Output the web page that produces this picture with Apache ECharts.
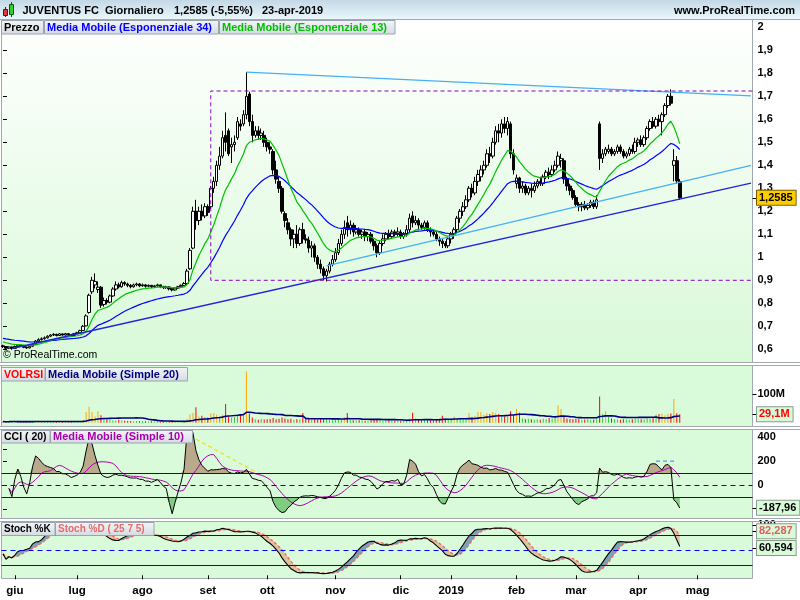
<!DOCTYPE html>
<html>
<head>
<meta charset="utf-8">
<script src="https://cdn.jsdelivr.net/npm/echarts@6/dist/echarts.min.js"></script>
<style>
html,body{margin:0;padding:0;background:#ffffff;}
#chart{width:800px;height:600px;}
</style>
</head>
<body>
<div id="chart"></div>
<script>
// ---------------- data ----------------
const firstTradingDay = '2018-05-28';
const categoryCount = 253;
const exchangeHolidays = ['2018-08-15','2018-12-24','2018-12-25','2018-12-26','2018-12-31','2019-01-01','2019-04-19','2019-04-22','2019-05-01'];
const monthLabels = ['gen','feb','mar','apr','mag','giu','lug','ago','set','ott','nov','dic'];

const priceTicks = [0.6,0.7,0.8,0.9,1.0,1.1,1.2,1.3,1.4,1.5,1.6,1.7,1.8,1.9,2.0];
const volumeTicks = [100];
const cciTicks = [-200,-100,0,100,200,300,400];
const cciLabelTicks = [0,200,400];
const stochTicks = [100];

// daily candles: [open, close, low, high]
const ohlc = [
// mag 2018
[0.615,0.612,0.606,0.620],[0.612,0.605,0.601,0.614],[0.605,0.610,0.602,0.613],[0.610,0.604,0.598,0.612],
// giu
[0.604,0.612,0.603,0.616],[0.612,0.618,0.610,0.622],[0.618,0.613,0.610,0.620],[0.613,0.609,0.605,0.615],[0.609,0.606,0.602,0.612],
[0.606,0.613,0.604,0.616],[0.613,0.622,0.611,0.625],[0.622,0.636,0.620,0.640],[0.636,0.642,0.630,0.648],[0.642,0.646,0.638,0.652],
[0.646,0.650,0.642,0.656],[0.650,0.657,0.647,0.661],[0.657,0.662,0.653,0.666],[0.662,0.665,0.658,0.670],[0.665,0.660,0.656,0.668],
[0.660,0.667,0.658,0.670],[0.667,0.662,0.659,0.669],[0.662,0.668,0.660,0.671],[0.668,0.664,0.660,0.670],[0.664,0.660,0.656,0.667],
[0.660,0.668,0.658,0.671],
// lug
[0.668,0.672,0.665,0.676],[0.672,0.681,0.670,0.685],[0.682,0.700,0.680,0.706],[0.702,0.745,0.700,0.752],[0.760,0.835,0.755,0.842],
[0.850,0.900,0.840,0.915],[0.880,0.895,0.865,0.930],[0.860,0.870,0.845,0.895],[0.870,0.792,0.780,0.875],[0.795,0.812,0.785,0.825],
[0.812,0.805,0.795,0.822],[0.805,0.832,0.800,0.838],[0.832,0.862,0.828,0.870],[0.862,0.880,0.855,0.895],[0.880,0.872,0.865,0.890],
[0.872,0.890,0.868,0.898],[0.890,0.884,0.876,0.896],[0.884,0.878,0.870,0.890],[0.878,0.872,0.865,0.884],[0.872,0.880,0.868,0.886],
[0.880,0.884,0.874,0.890],[0.884,0.876,0.870,0.888],
// ago
[0.876,0.880,0.872,0.886],[0.880,0.874,0.868,0.884],[0.874,0.878,0.870,0.882],[0.878,0.872,0.866,0.880],[0.872,0.876,0.868,0.880],
[0.876,0.880,0.872,0.885],[0.880,0.872,0.866,0.882],[0.872,0.868,0.862,0.876],[0.868,0.871,0.863,0.876],[0.871,0.863,0.856,0.874],
[0.863,0.858,0.852,0.866],[0.858,0.866,0.855,0.870],[0.866,0.872,0.862,0.876],[0.872,0.878,0.868,0.882],[0.878,0.886,0.874,0.892],
[0.886,0.940,0.880,0.950],[0.950,1.030,0.945,1.040],[1.040,1.200,1.035,1.220],[1.200,1.160,1.120,1.250],[1.160,1.200,1.140,1.220],
[1.200,1.180,1.160,1.230],[1.180,1.220,1.170,1.235],
// set
[1.220,1.195,1.180,1.230],[1.220,1.300,1.210,1.310],[1.300,1.330,1.280,1.350],[1.330,1.400,1.310,1.420],[1.400,1.440,1.380,1.480],
[1.440,1.520,1.430,1.550],[1.530,1.500,1.460,1.630],[1.550,1.450,1.440,1.560],[1.480,1.490,1.410,1.520],[1.490,1.500,1.460,1.530],
[1.520,1.590,1.510,1.610],[1.580,1.570,1.550,1.600],[1.580,1.620,1.570,1.640],[1.620,1.700,1.600,1.805],[1.710,1.590,1.570,1.720],
[1.590,1.530,1.500,1.620],[1.530,1.550,1.520,1.570],[1.550,1.530,1.510,1.570],[1.530,1.540,1.510,1.560],[1.530,1.500,1.480,1.550],
// ott
[1.500,1.480,1.460,1.520],[1.480,1.470,1.450,1.500],[1.460,1.380,1.360,1.470],[1.380,1.340,1.320,1.420],[1.330,1.300,1.280,1.350],
[1.300,1.200,1.190,1.310],[1.190,1.160,1.130,1.200],[1.150,1.120,1.100,1.170],[1.120,1.080,1.050,1.130],[1.080,1.100,1.040,1.120],
[1.100,1.060,1.040,1.140],[1.060,1.120,1.050,1.130],[1.120,1.080,1.060,1.150],[1.080,1.075,1.060,1.100],[1.075,1.040,1.020,1.090],
[1.040,1.050,1.000,1.070],[1.050,1.000,0.980,1.060],[1.000,0.970,0.950,1.010],[0.970,0.950,0.930,0.990],[0.950,0.920,0.900,0.960],
[0.920,0.940,0.895,0.950],[0.940,0.970,0.930,0.980],[0.970,0.990,0.960,1.010],
// nov
[0.990,1.020,0.980,1.040],[1.020,1.060,1.010,1.080],[1.060,1.100,1.050,1.120],[1.100,1.130,1.080,1.160],[1.150,1.120,1.090,1.180],
[1.120,1.140,1.100,1.160],[1.140,1.110,1.090,1.150],[1.110,1.120,1.100,1.140],[1.120,1.100,1.090,1.130],[1.100,1.110,1.080,1.120],
[1.110,1.090,1.070,1.120],[1.090,1.100,1.070,1.110],[1.100,1.070,1.060,1.110],[1.070,1.050,1.030,1.080],[1.050,1.020,1.000,1.060],
[1.020,1.060,1.010,1.070],[1.060,1.080,1.050,1.100],[1.080,1.100,1.070,1.110],[1.100,1.090,1.080,1.120],[1.090,1.110,1.080,1.120],
[1.110,1.100,1.090,1.120],[1.100,1.110,1.090,1.130],
// dic
[1.110,1.090,1.080,1.120],[1.090,1.100,1.080,1.110],[1.100,1.120,1.090,1.140],[1.120,1.170,1.110,1.190],[1.180,1.150,1.130,1.200],
[1.150,1.160,1.140,1.180],[1.160,1.140,1.120,1.170],[1.140,1.130,1.120,1.150],[1.130,1.150,1.120,1.160],[1.150,1.120,1.110,1.160],
[1.120,1.110,1.090,1.130],[1.110,1.100,1.090,1.120],[1.100,1.080,1.070,1.110],[1.080,1.070,1.050,1.090],[1.070,1.060,1.040,1.080],
[1.060,1.050,1.040,1.070],[1.050,1.080,1.040,1.090],
// gen 2019
[1.080,1.100,1.060,1.110],[1.100,1.120,1.080,1.130],[1.120,1.170,1.110,1.180],[1.170,1.200,1.150,1.210],[1.200,1.220,1.180,1.240],
[1.220,1.250,1.210,1.270],[1.250,1.300,1.240,1.310],[1.300,1.280,1.260,1.320],[1.280,1.330,1.270,1.350],[1.330,1.360,1.310,1.380],
[1.350,1.380,1.330,1.400],[1.380,1.400,1.360,1.420],[1.400,1.450,1.390,1.470],[1.450,1.440,1.410,1.480],[1.440,1.500,1.430,1.520],
[1.500,1.550,1.490,1.570],[1.550,1.540,1.500,1.580],[1.540,1.580,1.520,1.600],[1.580,1.560,1.540,1.610],[1.560,1.590,1.530,1.610],
[1.580,1.450,1.430,1.590],[1.450,1.380,1.360,1.470],
// feb
[1.320,1.345,1.300,1.360],[1.345,1.300,1.280,1.350],[1.300,1.310,1.280,1.330],[1.310,1.280,1.270,1.320],[1.280,1.300,1.270,1.310],
[1.300,1.290,1.260,1.320],[1.290,1.310,1.280,1.330],[1.310,1.330,1.300,1.340],[1.330,1.320,1.310,1.350],[1.320,1.350,1.310,1.360],
[1.350,1.370,1.340,1.380],[1.370,1.360,1.340,1.390],[1.360,1.380,1.350,1.400],[1.380,1.400,1.370,1.420],[1.400,1.440,1.390,1.460],
[1.420,1.430,1.390,1.450],[1.420,1.340,1.320,1.430],[1.340,1.310,1.290,1.350],[1.310,1.290,1.270,1.320],[1.290,1.260,1.250,1.300],
// mar
[1.260,1.230,1.220,1.270],[1.230,1.220,1.200,1.240],[1.220,1.230,1.200,1.240],[1.230,1.215,1.205,1.245],[1.215,1.225,1.205,1.235],
[1.225,1.240,1.215,1.250],[1.240,1.220,1.210,1.250],[1.220,1.250,1.210,1.270],[1.580,1.430,1.380,1.590],[1.430,1.450,1.410,1.470],
[1.450,1.470,1.440,1.480],[1.460,1.470,1.450,1.490],[1.470,1.450,1.440,1.480],[1.450,1.460,1.440,1.470],[1.460,1.480,1.450,1.490],
[1.480,1.460,1.450,1.490],[1.460,1.440,1.430,1.470],[1.440,1.450,1.430,1.460],[1.450,1.470,1.440,1.480],[1.470,1.460,1.450,1.490],
[1.460,1.500,1.450,1.520],
// apr
[1.500,1.510,1.480,1.520],[1.510,1.490,1.480,1.530],[1.490,1.520,1.480,1.530],[1.520,1.560,1.510,1.570],[1.560,1.590,1.550,1.600],
[1.590,1.570,1.560,1.610],[1.570,1.600,1.560,1.610],[1.600,1.590,1.570,1.620],[1.590,1.620,1.530,1.630],[1.620,1.660,1.610,1.670],
[1.660,1.700,1.650,1.710],[1.700,1.670,1.660,1.730],[1.400,1.420,1.330,1.470],[1.420,1.3325,1.320,1.440],[1.330,1.2585,1.250,1.340]
];

// daily volume, millions of shares
const volumeM = [
4,3,4,5,4,3,4,3,4,3,5,6,7,5,4,4,5,4,3,4,3,4,5,4,3,4,6,
9,37,56,37,22,40,26,14,12,10,9,8,10,8,
7,6,6,5,6,5,6,5,4,5,4,5,4,4,3,4,5,4,4,5,6,
14,29,34,54,22,24,20,18,32,34,29,22,28,65,22,18,20,24,29,26,178,32,18,
12,10,14,11,12,13,16,12,14,18,15,12,14,10,12,11,
34,14,12,10,12,11,13,12,14,10,9,10,12,10,20,34,
10,9,8,9,8,7,8,9,10,11,9,8,7,9,8,7,8,
7,8,12,15,35,15,10,8,9,8,9,8,10,12,24,15,12,
10,22,14,16,12,15,34,20,24,37,37,28,33,30,37,35,30,25,22,22,40,25,
48,35,15,12,14,12,10,12,10,14,12,16,15,18,60,48,22,15,13,12,14,12,10,11,12,10,11,14,
91,30,40,20,15,12,11,10,12,11,10,12,14,13,12,11,14,15,18,28,30,32,26,30,32,83,33,29.1
];

// moving-average values at the first bar
const ema34Seed = 0.650;
const ema13Seed = 0.636;

// drawn annotations, in [bar index, value]
const supportLine = [[3, 0.6035], [252, 1.322]];
const upperLine = [[82, 1.805], [252, 1.702]];
const lowerLine = [[109, 0.963], [252, 1.40]];
const boxLeft = 70, boxRight = 252.5, boxTop = 1.723, boxBottom = 0.90;
const cciTrendLine = [[65, 385], [85, 113]];
const cciAprilLine = [[220, 202], [227, 202]];

const lastValues = {price: 1.2585, volume: 29.1, cci: -187.96, stochD: 82.287, stochK: 60.594};
const lastLabels = {price: '1,2585', volume: '29,1M', cci: '-187,96', stochD: '82,287', stochK: '60,594'};

// ---------------- categories ----------------
const dates = [];
(function(){
  const p = firstTradingDay.split('-').map(Number);
  const d = new Date(Date.UTC(p[0], p[1]-1, p[2]));
  while (dates.length < categoryCount) {
    const s = d.toISOString().slice(0,10);
    const wd = d.getUTCDay();
    if (wd !== 0 && wd !== 6 && exchangeHolidays.indexOf(s) < 0) dates.push(s);
    d.setUTCDate(d.getUTCDate()+1);
  }
})();
const monthStart = dates.map((s,i) => i > 0 && s.slice(5,7) !== dates[i-1].slice(5,7));

// ---------------- indicators ----------------
const closes = ohlc.map(r => r[1]);
function ema(src, n, seed){ const k = 2/(n+1); let prev = seed; return src.map(v => { prev = prev + k*(v-prev); return +prev.toFixed(4); }); }
function sma(src, n){ return src.map((v,i) => { const w = src.slice(Math.max(0,i-n+1), i+1).filter(x => x != null); return w.length ? w.reduce((a,b)=>a+b,0)/w.length : null; }); }
const ema34 = ema(closes, 34, ema34Seed);
const ema13 = ema(closes, 13, ema13Seed);
const volMA = sma(volumeM, 20).map(v => +v.toFixed(3));
const volColors = volumeM.map((v,i) => {
  const up = ohlc[i][1] >= ohlc[i][0];
  if (!up) return '#ff0000';
  const ref = i > 0 ? volMA[i-1] : v;
  return v >= 1.5*ref ? '#ffa500' : '#33cc33';
});
const tp = ohlc.map(r => (r[1]+r[2]+r[3])/3);
const cci = tp.map((v,i) => {
  const n = Math.min(20, i+1);
  if (n < 3) return null;
  const w = tp.slice(i-n+1, i+1);
  const m = w.reduce((a,b)=>a+b,0)/n;
  const md = w.reduce((a,b)=>a+Math.abs(b-m),0)/n;
  return md ? +((v-m)/(0.015*md)).toFixed(2) : 0;
});
const cciMA = sma(cci, 10).map(v => v == null ? null : +v.toFixed(2));
const cciOver = cci.map(v => v == null ? null : Math.max(v-100, 0));
const cciUnder = cci.map(v => v == null ? null : Math.min(v+100, 0));
const rawK = ohlc.map((r,i) => {
  const w = ohlc.slice(Math.max(0,i-24), i+1);
  const hh = Math.max(...w.map(x=>x[3])), ll = Math.min(...w.map(x=>x[2]));
  return hh > ll ? (r[1]-ll)/(hh-ll)*100 : 50;
});
const stochK = sma(rawK, 7).map(v => +v.toFixed(2));
const stochD = sma(stochK, 5).map(v => +v.toFixed(2));
const stBase = stochK.map((k,i) => Math.min(k, stochD[i]));
const stUp = stochK.map((k,i) => k > stochD[i] ? +(k-stochD[i]).toFixed(2) : 0);
const stDn = stochK.map((k,i) => stochD[i] > k ? +(stochD[i]-k).toFixed(2) : 0);

// ---------------- chart ----------------
const FONT = 'Liberation Sans';
const BORDER = '#a0a8b0';
const PANEL_BG = '#d9fbd9';
const plotLeft = 1.5, plotWidth = 751;
const chart = echarts.init(document.getElementById('chart'));

const priceBg = {type:'linear', x:0, y:0, x2:0, y2:1, colorStops:[{offset:0,color:'#ffffff'},{offset:1,color:'#d8f9d8'}]};
function gridOf(top, height, bg){ return {left: plotLeft, top, width: plotWidth, height, show: true, backgroundColor: bg, borderColor: BORDER, borderWidth: 1, containLabel: false}; }
function catAxis(gi){ return {type:'category', gridIndex: gi, data: dates, boundaryGap: true, axisLine:{show:false}, axisTick:{show:false}, axisLabel:{show:false}, splitLine:{show:false}}; }
function valAxis(gi, min, max, ticks, labels, fmt){
  return {type:'value', gridIndex: gi, position:'right', min, max, scale: true,
    splitLine:{show:false}, axisLine:{show:false},
    axisTick:{show:true, length:4, customValues: ticks, lineStyle:{color:'#000'}},
    axisLabel:{show:true, customValues: labels, formatter: fmt, margin: 5, color:'#000', fontWeight:'bold', fontSize: 11, fontFamily: FONT}};
}
const isStart = (idx) => monthStart[idx];
const monthFmt = (val) => { const m = +val.slice(5,7); return m === 1 ? val.slice(0,4) : monthLabels[m-1]; };
const lineS = (xi, yi, data, color, width, extra) => Object.assign({type:'line', xAxisIndex: xi, yAxisIndex: yi, data, symbol:'none', showSymbol:false, silent:true, lineStyle:{color, width}}, extra || {});

const option = {
  animation: false,
  backgroundColor: '#ffffff',
  grid: [
    gridOf(19.5, 343, priceBg),
    gridOf(365.5, 61, PANEL_BG),
    gridOf(429.5, 89, PANEL_BG),
    gridOf(521.5, 57, PANEL_BG)
  ],
  xAxis: [
    catAxis(0), catAxis(1), catAxis(2),
    Object.assign(catAxis(3), {
      axisTick:{show:true, alignWithLabel:true, interval: isStart, length:4, lineStyle:{color:'#000'}},
      axisLabel:{show:true, interval: isStart, formatter: monthFmt, color:'#000', fontWeight:'bold', fontSize:11.5, fontFamily: FONT, margin: 6}
    }),
    {type:'value', gridIndex:0, min:-0.5, max: categoryCount-0.5, show:false},
    {type:'value', gridIndex:2, min:-0.5, max: categoryCount-0.5, show:false}
  ],
  yAxis: [
    valAxis(0, 0.5426, 2.0339, priceTicks, priceTicks, v => String(+(+v).toFixed(1)).replace('.', ',')),
    valAxis(1, -13.2, 199.3, volumeTicks, volumeTicks, v => Math.round(v) + 'M'),
    valAxis(2, -276.7, 465, cciTicks, cciLabelTicks, v => String(Math.round(v))),
    valAxis(3, -6.4, 107.6, stochTicks, stochTicks, v => String(Math.round(v)))
  ],
  series: [
    {type:'candlestick', xAxisIndex:0, yAxisIndex:0, data: ohlc, barWidth: 3, silent: true,
     itemStyle:{color:'#ffffff', color0:'#000000', borderColor:'#000000', borderColor0:'#000000', borderWidth:1}},
    lineS(0, 0, ema34, '#0000ff', 1.2),
    lineS(0, 0, ema13, '#00c000', 1.2),
    lineS(4, 0, supportLine, '#2323d8', 1.3),
    lineS(4, 0, upperLine, '#45b0f5', 1.2),
    lineS(4, 0, lowerLine, '#45b0f5', 1.2),
    lineS(4, 0, [[boxRight, boxTop],[boxLeft, boxTop],[boxLeft, boxBottom],[boxRight, boxBottom]], '#8a00c8', 1, {lineStyle:{color:'#8a00c8', width:1, type:[4,3]}}),

    {type:'bar', xAxisIndex:1, yAxisIndex:1, barWidth:1, silent:true,
     data: volumeM.map((v,i) => ({value: v, itemStyle:{color: volColors[i]}}))},
    lineS(1, 1, volMA, '#000080', 1.6),

    lineS(2, 2, cci.map(v => v == null ? null : 100), '#000', 0, {stack:'cciUp', stackStrategy:'all', lineStyle:{opacity:0, width:0}}),
    lineS(2, 2, cciOver, '#000', 0, {stack:'cciUp', stackStrategy:'all', lineStyle:{opacity:0, width:0}, areaStyle:{color:'#b9aa8c', opacity:1}}),
    lineS(2, 2, cci.map(v => v == null ? null : -100), '#000', 0, {stack:'cciDn', stackStrategy:'all', lineStyle:{opacity:0, width:0}}),
    lineS(2, 2, cciUnder, '#000', 0, {stack:'cciDn', stackStrategy:'all', lineStyle:{opacity:0, width:0}, areaStyle:{color:'#80cc80', opacity:1}}),
    lineS(2, 2, cciMA, '#b000b0', 1),
    lineS(2, 2, cci, '#000000', 1, {markLine:{silent:true, symbol:'none', label:{show:false}, lineStyle:{color:'#0000ff', width:1, type:'solid'},
      data:[{yAxis:100},{yAxis:-100},{yAxis:0, lineStyle:{color:'#0000ff', width:1, type:[5,4]}}]}}),
    lineS(5, 2, cciTrendLine, '#f0e020', 1.3, {lineStyle:{color:'#f0e020', width:1.3, type:[4,3]}}),
    lineS(5, 2, cciAprilLine, '#40a0ff', 1.3, {lineStyle:{color:'#40a0ff', width:1.3, type:[4,3]}}),

    lineS(3, 3, stBase, '#000', 0, {stack:'st', stackStrategy:'all', lineStyle:{opacity:0, width:0}}),
    lineS(3, 3, stUp, '#000', 0, {stack:'st', stackStrategy:'all', lineStyle:{opacity:0, width:0}, areaStyle:{color:'#82a0b4', opacity:1}}),
    lineS(3, 3, stDn, '#000', 0, {stack:'st', stackStrategy:'all', lineStyle:{opacity:0, width:0}, areaStyle:{color:'#dcc3a0', opacity:1}}),
    lineS(3, 3, stochD, '#f06a6a', 1.4, {lineStyle:{color:'#f06a6a', width:1.4, type:[3,2]}}),
    lineS(3, 3, stochK, '#000000', 1.1, {markLine:{silent:true, symbol:'none', label:{show:false}, lineStyle:{color:'#0000ff', width:1, type:'solid'},
      data:[{yAxis:80},{yAxis:20},{yAxis:50, lineStyle:{color:'#0000ff', width:1, type:[5,4]}}]}})
  ]
};
chart.setOption(option);

// ---------------- overlays (title bar, legends, value boxes) ----------------
const legendFill = new echarts.graphic.LinearGradient(0,0,0,1,[{offset:0,color:'#f3f6f8'},{offset:1,color:'#d4dbe1'}]);
const els = [];
function txt(x, y, text, opts){ return Object.assign({type:'text', z:110, style:Object.assign({x, y, text, fill:'#000', fontFamily:FONT, fontSize:11, fontWeight:'bold', verticalAlign:'middle', align:'left'}, opts || {})}); }
function legend(x, y, w, h, text, color, size){
  els.push({type:'rect', z:105, shape:{x, y, width:w, height:h}, style:{fill: legendFill, stroke:'#9aa4ad', lineWidth:1}});
  els.push(txt(x+2.5, y+h/2+0.5, text, {fill: color, fontSize: size || 11}));
}
function hline(y, x1, x2){ els.push({type:'line', z:104, shape:{x1, y1:y, x2, y2:y}, style:{stroke: BORDER, lineWidth:1}}); }

// title bar
els.push({type:'rect', z:100, shape:{x:0, y:0, width:800, height:19}, style:{fill: new echarts.graphic.LinearGradient(0,0,0,1,[{offset:0,color:'#c3d9e6'},{offset:1,color:'#eaf6fc'}])}});
hline(19.5, 0, 800);
els.push({type:'line', z:106, shape:{x1:5.5, y1:7, x2:5.5, y2:17}, style:{stroke:'#800000', lineWidth:1}});
els.push({type:'rect', z:107, shape:{x:3.5, y:9.5, width:4, height:6}, style:{fill:'#e53a3a', stroke:'#8a0000', lineWidth:1}});
els.push({type:'line', z:106, shape:{x1:11.5, y1:2, x2:11.5, y2:17}, style:{stroke:'#006000', lineWidth:1}});
els.push({type:'rect', z:107, shape:{x:9.5, y:4.5, width:4, height:10}, style:{fill:'#33cc33', stroke:'#006000', lineWidth:1}});
els.push(txt(22.5, 10.5, 'JUVENTUS FC'));
els.push(txt(105, 10.5, 'Giornaliero'));
els.push(txt(174, 10.5, '1,2585 (-5,55%)'));
els.push(txt(262, 10.5, '23-apr-2019'));
els.push(txt(795, 10.5, 'www.ProRealTime.com', {align:'right'}));

// panel separators across the full width
hline(362.5, 0, 800); hline(365.5, 0, 800);
hline(426.5, 0, 800); hline(429.5, 0, 800);
hline(518.5, 0, 800); hline(521.5, 0, 800);

// legends
legend(1.5, 20.5, 42, 13.5, 'Prezzo', '#000000');
legend(44.5, 20.5, 174, 13.5, 'Media Mobile (Esponenziale 34)', '#0000ff');
legend(219.5, 20.5, 175.5, 13.5, 'Media Mobile (Esponenziale 13)', '#00c000');
legend(1.5, 367.5, 43.5, 13.5, 'VOLRSI', '#ff0000', 10.5);
legend(45.5, 367.5, 142, 13.5, 'Media Mobile (Simple 20)', '#000080');
legend(1.5, 430.5, 48.5, 12.5, 'CCI ( 20)', '#000000', 10.5);
legend(50.5, 430.5, 142, 12.5, 'Media Mobile (Simple 10)', '#aa00aa');
legend(1.5, 522.5, 53.5, 13, 'Stoch %K', '#000000', 10);
legend(55.5, 522.5, 98.5, 13, 'Stoch %D ( 25 7 5)', '#e86a6a', 10);

els.push(txt(3, 355.5, '\u00a9 ProRealTime.com', {fontWeight:'normal', fontSize:10.5}));

// last-value boxes on the right axis
function valueBox(y, text, color, bg, bd){
  els.push({type:'line', z:106, shape:{x1:752.5, y1:Math.round(y)+0.5, x2:757, y2:Math.round(y)+0.5}, style:{stroke:'#000', lineWidth:1}});
  els.push(txt(757, y, text, {fill: color, backgroundColor: bg, borderColor: bd, borderWidth: 1, padding:[2,3,1,2]}));
}
const yPrice = chart.convertToPixel({yAxisIndex:0}, lastValues.price);
const yVol = chart.convertToPixel({yAxisIndex:1}, lastValues.volume);
const yCci = chart.convertToPixel({yAxisIndex:2}, lastValues.cci);
let yD = chart.convertToPixel({yAxisIndex:3}, lastValues.stochD);
let yK = chart.convertToPixel({yAxisIndex:3}, lastValues.stochK);
if (yK - yD < 16.7) { const mid = (yD + yK)/2; yD = mid - 8.35; yK = mid + 8.35; }
valueBox(yPrice, lastLabels.price, '#000000', '#ffcc00', '#7a6000');
valueBox(yVol, lastLabels.volume, '#ff0000', PANEL_BG, '#8c9c8c');
valueBox(yCci, lastLabels.cci, '#000000', PANEL_BG, '#8c9c8c');
valueBox(yD, lastLabels.stochD, '#e06060', PANEL_BG, '#8c9c8c');
valueBox(yK, lastLabels.stochK, '#000000', PANEL_BG, '#8c9c8c');

chart.setOption({graphic: {elements: els}});
</script>
</body>
</html>
